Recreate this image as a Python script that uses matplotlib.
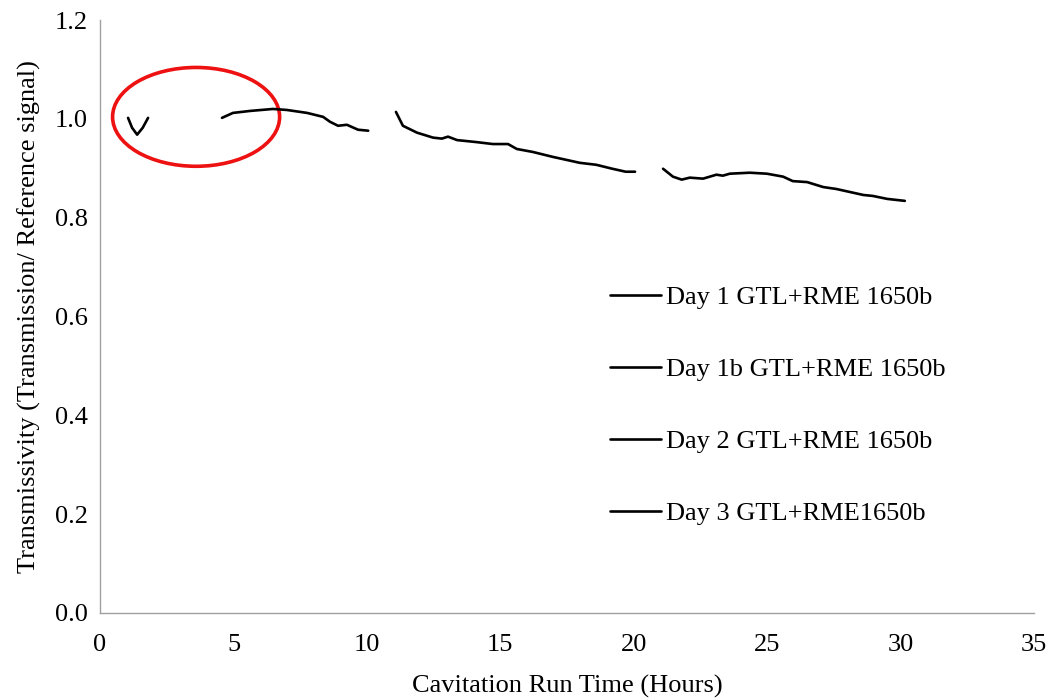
import numpy as np
import matplotlib.pyplot as plt
from matplotlib.patches import Ellipse

plt.rcParams['font.family'] = ['Liberation Serif', 'DejaVu Serif']

# Day 1 GTL+RME 1650b
day1_x = [1.05, 1.2, 1.39, 1.6, 1.80]
day1_y = [1.002, 0.982, 0.968, 0.982, 1.002]

# Day 1b GTL+RME 1650b
day1b_x = [4.57, 4.98, 5.62, 6.48, 7.0, 7.76, 8.36, 8.62, 8.92, 9.25, 9.67, 10.05]
day1b_y = [1.002, 1.012, 1.016, 1.020, 1.018, 1.012, 1.004, 0.994, 0.986, 0.988, 0.978, 0.976]

# Day 2 GTL+RME 1650b
day2_x = [11.09, 11.35, 11.88, 12.48, 12.81, 13.04, 13.38, 14.1, 14.72, 15.29,
          15.62, 16.22, 16.97, 17.98, 18.6, 19.2, 19.7, 20.05]
day2_y = [1.014, 0.986, 0.972, 0.962, 0.960, 0.964, 0.957, 0.953, 0.949, 0.949,
          0.939, 0.933, 0.923, 0.911, 0.907, 0.899, 0.893, 0.893]

# Day 3 GTL+RME1650b
day3_x = [21.1, 21.47, 21.8, 22.1, 22.6, 23.1, 23.34, 23.6, 24.35, 24.99, 25.4,
          25.6, 25.96, 26.5, 27.1, 27.6, 28.6, 28.96, 29.5, 30.16]
day3_y = [0.899, 0.883, 0.877, 0.881, 0.879, 0.887, 0.885, 0.889, 0.891, 0.889, 0.885,
          0.883, 0.874, 0.872, 0.862, 0.858, 0.846, 0.844, 0.838, 0.834]

labels = ['Day 1 GTL+RME 1650b', 'Day 1b GTL+RME 1650b',
          'Day 2 GTL+RME 1650b', 'Day 3 GTL+RME1650b']

fig = plt.figure(figsize=(10.62, 7), dpi=100)
ax = fig.add_axes([0.0942, 0.1243, 0.8794, 0.8471])

for xs, ys, lab in zip([day1_x, day1b_x, day2_x, day3_x],
                       [day1_y, day1b_y, day2_y, day3_y], labels):
    ax.plot(xs, ys, color='black', lw=1.9, label=lab, solid_capstyle='round')

# highlight circle
ax.add_patch(Ellipse((3.6, 1.004), 6.26, 0.2, fill=False, edgecolor='#ee1111', lw=2.6))

ax.set_xlim(0, 35)
ax.set_ylim(0, 1.2)
ax.set_xticks(np.arange(0, 36, 5))
ax.set_yticks(np.arange(0, 1.21, 0.2))
ax.set_yticklabels(['%.1f' % v for v in np.arange(0, 1.21, 0.2)])
ax.tick_params(axis='both', labelsize=19, length=0)
ax.tick_params(axis='x', pad=15)
ax.tick_params(axis='y', pad=9)
for s in ['top', 'right']:
    ax.spines[s].set_visible(False)
for s in ['left', 'bottom']:
    ax.spines[s].set_color('#a0a0a0')
    ax.spines[s].set_linewidth(1)

ax.set_xlabel('Cavitation Run Time (Hours)', fontsize=19, labelpad=14)
ax.set_ylabel('Transmissivity (Transmission/ Reference signal)', fontsize=19, labelpad=10)

ax.legend(loc='center left', bbox_to_anchor=(0.521, 0.35), frameon=False, fontsize=19,
          handlelength=1.9, handletextpad=0.2, labelspacing=1.84)

fig.savefig('out.png', dpi=100)
